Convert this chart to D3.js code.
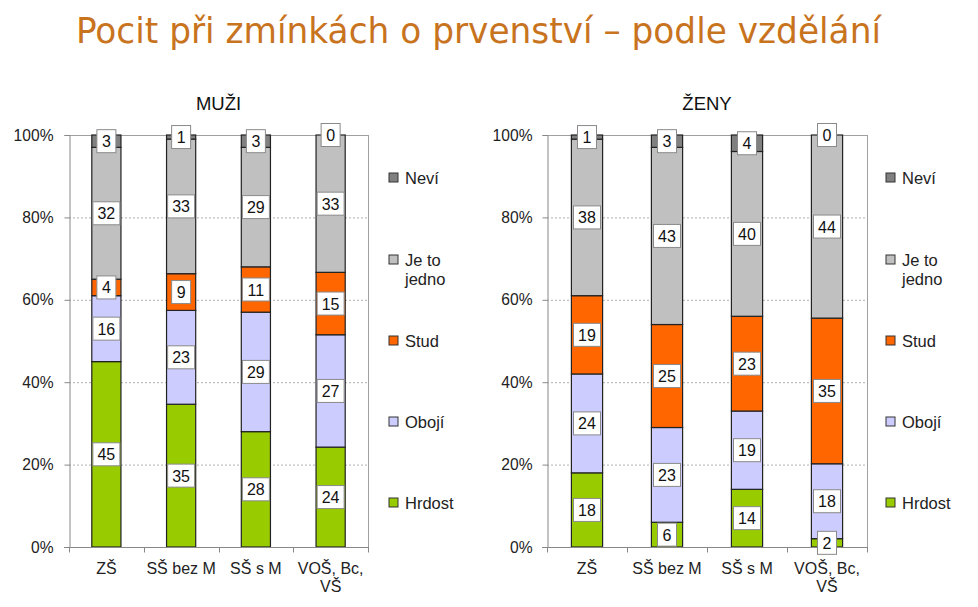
<!DOCTYPE html>
<html><head><meta charset="utf-8">
<script src="https://cdn.jsdelivr.net/npm/d3@7"></script>
<style>
html,body{margin:0;padding:0;background:#fff;}
svg{display:block;font-family:"Liberation Sans",Arial,sans-serif;}
</style></head>
<body>
<svg id="chart" width="978" height="607"></svg>
<script>
// ---- data ----
const mainTitle = "Pocit při zmínkách o prvenství – podle vzdělání";
const categories = ["ZŠ", "SŠ bez M", "SŠ s M", "VOŠ, Bc, VŠ"];
const categoryLines = [["ZŠ"], ["SŠ bez M"], ["SŠ s M"], ["VOŠ, Bc,", "VŠ"]];
const seriesNames = ["Hrdost", "Obojí", "Stud", "Je to jedno", "Neví"];
const legendLines = {"Neví": ["Neví"], "Je to jedno": ["Je to", "jedno"], "Stud": ["Stud"], "Obojí": ["Obojí"], "Hrdost": ["Hrdost"]};
const seriesColors = ["#99cc00", "#ccccff", "#ff6600", "#c0c0c0", "#808080"];
const yTicks = [0, 0.2, 0.4, 0.6, 0.8, 1.0];

const muziHrdost = [45, 35, 28, 24];
const muziOboji  = [16, 23, 29, 27];
const muziStud   = [4, 9, 11, 15];
const muziJedno  = [32, 33, 29, 33];
const muziNevi   = [3, 1, 3, 0];

const zenyHrdost = [18, 6, 14, 2];
const zenyOboji  = [24, 23, 19, 18];
const zenyStud   = [19, 25, 23, 35];
const zenyJedno  = [38, 43, 40, 44];
const zenyNevi   = [1, 3, 4, 0];

const svg = d3.select("#chart");

svg.append("text")
  .attr("x", 76).attr("y", 43)
  .attr("textLength", 805).attr("lengthAdjust", "spacingAndGlyphs")
  .style("font-family", "'DejaVu Sans Condensed','DejaVu Sans',sans-serif")
  .style("font-size", "36px").attr("fill", "#c8731e")
  .text(mainTitle);

function buildRows(arrs) {
  return categories.map((c, i) => {
    const r = {cat: c};
    seriesNames.forEach((s, k) => r[s] = arrs[k][i]);
    return r;
  });
}

function drawChart(cfg) {
  const g = svg.append("g");
  const top = 135, bottom = 547;
  const x = d3.scaleBand().domain(categories).range([cfg.left, cfg.right]);
  const y = d3.scaleLinear().domain([0, 1]).range([bottom, top]);
  const color = d3.scaleOrdinal().domain(seriesNames).range(seriesColors);

  // subtitle
  g.append("text").attr("x", (cfg.left + cfg.right) / 2).attr("y", 110)
    .attr("text-anchor", "middle").style("font-size", "18.5px").attr("fill", "#111")
    .text(cfg.title);

  // gridlines
  g.selectAll(".grid").data(yTicks.filter(t => t > 0 && t < 1)).join("line")
    .attr("x1", cfg.left).attr("x2", cfg.right)
    .attr("y1", d => y(d) + 0.5).attr("y2", d => y(d) + 0.5)
    .attr("stroke", "#b0b0b0").attr("stroke-dasharray", "2,2").attr("stroke-width", 1);
  // top and right border
  g.append("line").attr("x1", cfg.left).attr("x2", cfg.right)
    .attr("y1", y(1) + 0.5).attr("y2", y(1) + 0.5).attr("stroke", "#a0a0a0");
  g.append("line").attr("x1", cfg.right + 0.5).attr("x2", cfg.right + 0.5)
    .attr("y1", y(1)).attr("y2", y(0)).attr("stroke", "#a0a0a0");

  // y axis
  const yAxis = d3.axisLeft(y).tickValues(yTicks).tickFormat(d3.format(".0%"))
    .tickSizeOuter(0).tickSize(5).tickPadding(cfg.tickPad);
  const ya = g.append("g").attr("transform", `translate(${cfg.left + 0.5},0)`).call(yAxis);
  ya.select(".domain").attr("stroke", "#888");
  ya.selectAll(".tick line").attr("stroke", "#888");
  ya.selectAll(".tick text").style("font-size", "15.6px").attr("fill", "#222")
    .style("font-family", "'Liberation Sans',Arial,sans-serif");

  // stacked bars
  const rows = buildRows(cfg.values);
  const stack = d3.stack().keys(seriesNames).offset(d3.stackOffsetExpand);
  const layers = stack(rows);
  const bw = x.bandwidth() * 0.39;
  layers.forEach(layer => {
    g.selectAll(null).data(layer).join("rect")
      .attr("x", d => x(d.data.cat) + (x.bandwidth() - bw) / 2)
      .attr("width", bw)
      .attr("y", d => y(d[1]))
      .attr("height", d => Math.max(0, y(d[0]) - y(d[1])))
      .attr("fill", color(layer.key))
      .attr("stroke", "#222").attr("stroke-width", 1.2);
  });

  // x axis
  const xa = g.append("g").attr("transform", `translate(0,${bottom + 0.5})`);
  xa.append("line").attr("x1", cfg.left - 5).attr("x2", cfg.right + 1)
    .attr("stroke", "#888").attr("stroke-width", 1.2);
  const bounds = categories.map(c => x(c)).concat([cfg.right]);
  xa.selectAll(".xt").data(bounds).join("line")
    .attr("x1", d => Math.round(d) + 0.5).attr("x2", d => Math.round(d) + 0.5)
    .attr("y1", 0).attr("y2", 5).attr("stroke", "#888");
  categories.forEach((c, i) => {
    const t = xa.append("text").attr("x", x(c) + x.bandwidth() / 2).attr("y", 26)
      .attr("text-anchor", "middle").style("font-size", "16px").attr("fill", "#222");
    categoryLines[i].forEach((ln, j) => {
      t.append("tspan").attr("x", x(c) + x.bandwidth() / 2).attr("dy", j === 0 ? 0 : 18).text(ln);
    });
  });

  // data labels
  layers.forEach(layer => {
    layer.forEach(d => {
      const val = d.data[layer.key];
      const cx = x(d.data.cat) + x.bandwidth() / 2;
      const cy = (y(d[0]) + y(d[1])) / 2;
      const w = String(val).length > 1 ? 27 : 19;
      const lg = g.append("g");
      lg.append("rect").attr("x", cx - w / 2).attr("y", cy - 11.5)
        .attr("width", w).attr("height", 23)
        .attr("fill", "#fff").attr("stroke", "#8a8a8a").attr("stroke-width", 1);
      lg.append("text").attr("x", cx).attr("y", cy + 6)
        .attr("text-anchor", "middle").style("font-size", "16px").attr("fill", "#111")
        .text(val);
    });
  });

  // legend
  const legendOrder = seriesNames.slice().reverse();
  const legendY = [178, 260, 341, 422, 503];
  legendOrder.forEach((s, i) => {
    const ly = legendY[i];
    g.append("rect").attr("x", cfg.legendX).attr("y", ly - 5).attr("width", 9).attr("height", 9)
      .attr("fill", color(s)).attr("stroke", "#333").attr("stroke-width", 1);
    const t = g.append("text").attr("x", cfg.legendX + 16).attr("y", ly + 6)
      .style("font-size", "16.5px").attr("fill", "#222");
    legendLines[s].forEach((ln, j) => {
      t.append("tspan").attr("x", cfg.legendX + 16).attr("dy", j === 0 ? 0 : 18.5).text(ln);
    });
  });
}

drawChart({title: "MUŽI", left: 69, right: 368, legendX: 389, tickPad: 11,
  values: [muziHrdost, muziOboji, muziStud, muziJedno, muziNevi]});
drawChart({title: "ŽENY", left: 547, right: 867, legendX: 886, tickPad: 10,
  values: [zenyHrdost, zenyOboji, zenyStud, zenyJedno, zenyNevi]});
</script>
</body></html>
